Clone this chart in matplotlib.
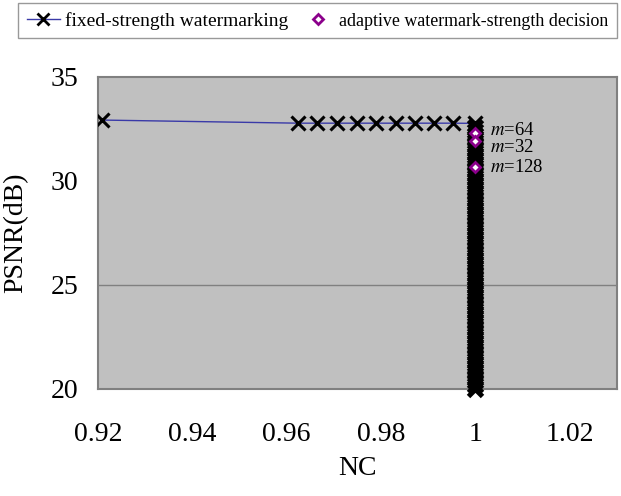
import matplotlib
matplotlib.use("Agg")
import matplotlib.pyplot as plt
from matplotlib.lines import Line2D

plt.rcParams['font.family'] = ['Liberation Serif', 'DejaVu Serif']
plt.rcParams['mathtext.fontset'] = 'stix'

# fixed-strength watermarking: NC vs PSNR
fixed_nc = [0.9208, 0.9624, 0.9664, 0.9706, 0.9748, 0.9790, 0.9832, 0.9872, 0.9912, 0.9952, 1.0]
fixed_psnr = [32.93, 32.78, 32.78, 32.78, 32.78, 32.78, 32.78, 32.78, 32.78, 32.78, 32.77]
# many more strengths all reaching NC = 1
tail_psnr = [32.6, 32.4, 32.2, 32.0, 31.8, 31.6, 31.4, 31.2, 31.0, 30.8, 30.6, 30.4,
             30.2, 30.0, 29.8, 29.6, 29.4, 29.2, 29.0, 28.8, 28.6, 28.4, 28.2, 28.0,
             27.8, 27.6, 27.4, 27.2, 27.0, 26.8, 26.6, 26.4, 26.2, 26.0, 25.8, 25.6,
             25.4, 25.2, 25.0, 24.8, 24.6, 24.4, 24.2, 24.0, 23.8, 23.6, 23.4, 23.2,
             23.0, 22.8, 22.6, 22.4, 22.2, 22.0, 21.8, 21.6, 21.4, 21.2, 21.0, 20.8,
             20.6, 20.4, 20.2, 20.0]
fixed_nc = fixed_nc + [1.0] * len(tail_psnr)
fixed_psnr = fixed_psnr + tail_psnr

# adaptive decision
adapt_nc = [1.0, 1.0, 1.0]
adapt_psnr = [32.29, 31.94, 30.69]
adapt_lab = ["64", "32", "128"]
lab_y = [32.45, 31.6, 30.63]

GRAY = "#808080"
fig = plt.figure(figsize=(6.21, 4.96), dpi=100)
ax = fig.add_axes([98/621, 1-389/496, 519/621, 312/496])
ax.set_facecolor("#c0c0c0")
for s in ax.spines.values():
    s.set_color(GRAY); s.set_linewidth(1.5)

ax.axhline(25, color=GRAY, lw=1, zorder=1)
ax.plot(fixed_nc, fixed_psnr, "-", color="#3a3aa8", lw=1, zorder=2)
ax.plot(fixed_nc[:11], fixed_psnr[:11], "x", color="black", ms=10, mew=2.2, zorder=3)
ax.plot(fixed_nc[11:], fixed_psnr[11:], "x", color="black", ms=10, mew=3.5, zorder=3, clip_on=False)
ax.plot(adapt_nc, adapt_psnr, "D", ms=5.5, mfc="white", mec="#8b008b", mew=2, zorder=4)
for y, t in zip(lab_y, adapt_lab):
    ax.text(1.003, y, "$m$=" + t, fontsize=13.5, va="center", ha="left", zorder=5)

ax.set_xlim(0.92, 1.03)
ax.set_ylim(20, 35)
ax.set_xticks([0.92, 0.94, 0.96, 0.98, 1.0, 1.02])
ax.set_xticklabels(["0.92", "0.94", "0.96", "0.98", "1", "1.02"])
ax.set_yticks([20, 25, 30, 35])
ax.tick_params(axis="both", length=0, labelsize=20)
ax.tick_params(axis="x", pad=24)
ax.tick_params(axis="y", pad=14)
ax.set_xticks([0.94, 0.98, 1.02], minor=True)
ax.tick_params(axis="x", which="minor", direction="in", length=5, width=1.5, color=GRAY)
ax.set_xlabel("NC", fontsize=20, labelpad=6)
ax.set_ylabel("PSNR(dB)", fontsize=20, labelpad=16)

h1 = Line2D([], [], color="#3a3aa8", lw=1, marker="x", mec="black", ms=9, mew=2)
h2 = Line2D([], [], ls="none", marker="D", ms=5.5, mfc="white", mec="#8b008b", mew=2)
leg = fig.legend([h1, h2], ["fixed-strength watermarking", "adaptive watermark-strength decision"],
                 loc="upper left", bbox_to_anchor=(18/621, 1-3/496),
                 ncol=2, fontsize=14, frameon=True, fancybox=False,
                 edgecolor=GRAY, handlelength=1.7, handletextpad=0.25, columnspacing=0.7,
                 borderpad=0.45, borderaxespad=0)
leg.get_texts()[1].set_fontsize(12.9)
leg.get_frame().set_linewidth(1)

fig.savefig("out.png", dpi=100)
